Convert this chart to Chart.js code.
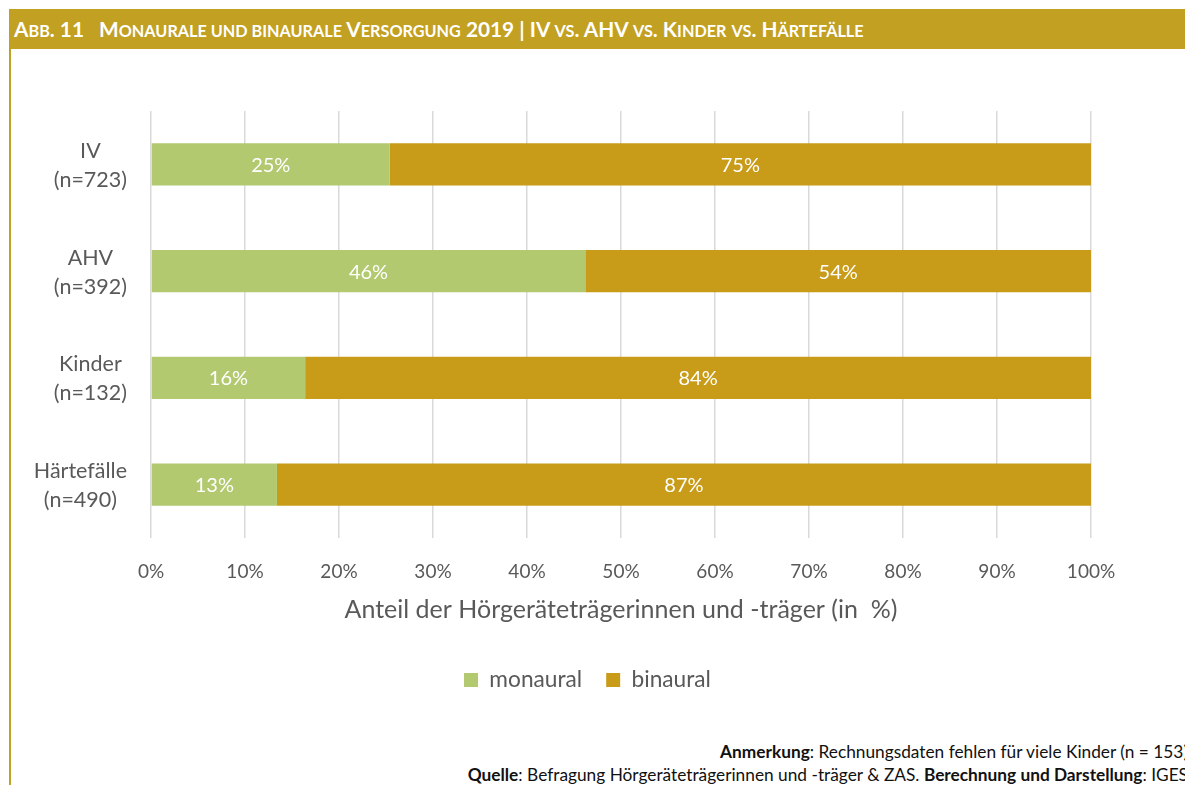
<!DOCTYPE html>
<html>
<head>
<meta charset="utf-8">
<script src="https://cdn.jsdelivr.net/npm/chart.js@4/dist/chart.umd.min.js"></script>
<style>
  html, body { margin: 0; padding: 0; background: #ffffff; }
  body { width: 1185px; height: 785px; position: relative; overflow: hidden; }
  #header { position: absolute; left: 9px; top: 9px; width: 1176px; height: 40px; background: #C2A021; }
  #title { position: absolute; left: 5px; top: 0; line-height: 40px; color: #ffffff; font-family: Lato, "Open Sans", sans-serif; font-weight: bold; font-size: 20.8px; white-space: pre; }
  #title .s { font-size: 0.78em; text-transform: uppercase; }
  #leftline { position: absolute; left: 9px; top: 49px; width: 2px; height: 736px; background: #C2A021; }
  #wrap { position: absolute; left: 0; top: 0; width: 1185px; height: 720px; }
  .foot { position: absolute; right: -3px; font-family: Lato, "Open Sans", sans-serif; font-size: 17.3px; line-height: 20px; color: #111111; white-space: pre; }
</style>
</head>
<body>
<div id="header"><div id="title">A<span class="s">bb</span>. 11   M<span class="s">onaurale und binaurale</span> V<span class="s">ersorgung</span> 2019 | IV <span class="s">vs</span>. AHV <span class="s">vs</span>. K<span class="s">inder</span> <span class="s">vs</span>. H<span class="s">ärtefälle</span></div></div>
<div id="leftline"></div>
<div id="wrap"><canvas id="c"></canvas></div>
<div class="foot" style="top:742px;"><b>Anmerkung</b>: Rechnungsdaten fehlen für viele Kinder (n = 153)</div>
<div class="foot" style="top:765px;"><b>Quelle</b>: Befragung Hörgeräteträgerinnen und -träger &amp; ZAS. <b>Berechnung und Darstellung</b>: IGES</div>
<script>
const categories = [["IV", "(n=723)"], ["AHV", "(n=392)"], ["Kinder", "(n=132)"], ["Härtefälle", "(n=490)"]];
const monaural = [25.4, 46.2, 16.4, 13.4];
const binaural = [74.6, 53.8, 83.6, 86.6];
const seriesNames = ["monaural", "binaural"];
const xTicks = [0, 10, 20, 30, 40, 50, 60, 70, 80, 90, 100];
const axisTitle = "Anteil der Hörgeräteträgerinnen und -träger (in  %)";

const GREY = "#595959";
const FONT = "Lato, 'Open Sans', sans-serif";

const yLabelPlugin = {
  id: "yLabels",
  afterDraw(chart) {
    const ctx = chart.ctx;
    const ys = chart.scales.y;
    ctx.save();
    ctx.font = "21.5px " + FONT;
    ctx.fillStyle = GREY;
    ctx.textAlign = "center";
    ctx.textBaseline = "middle";
    const lh = 29;
    categories.forEach((lines, i) => {
      const y = ys.getPixelForTick(i);
      let w = 0;
      lines.forEach(l => { w = Math.max(w, ctx.measureText(l).width); });
      const cx = chart.chartArea.left - 24 - w / 2;
      lines.forEach((l, k) => {
        ctx.fillText(l, cx, y + 1 + (k - (lines.length - 1) / 2) * lh);
      });
    });
    ctx.restore();
  }
};

const valueLabelPlugin = {
  id: "valueLabels",
  afterDatasetsDraw(chart) {
    const ctx = chart.ctx;
    ctx.save();
    ctx.font = "20px " + FONT;
    ctx.fillStyle = "#ffffff";
    ctx.textAlign = "center";
    ctx.textBaseline = "middle";
    chart.data.datasets.forEach((ds, di) => {
      const meta = chart.getDatasetMeta(di);
      meta.data.forEach((el, i) => {
        const p = el.getProps(["x", "y", "base"], true);
        ctx.fillText(Math.round(ds.data[i]) + "%", (p.x + p.base) / 2, p.y + 1);
      });
    });
    ctx.restore();
  }
};

const legendShift = {
  id: "legendShift",
  afterLayout(chart) {
    if (chart.legend) { chart.legend.left += 42; chart.legend.right += 42; }
  }
};

new Chart(document.getElementById("c"), {
  type: "bar",
  data: {
    labels: categories,
    datasets: [
      { label: seriesNames[0], data: monaural, backgroundColor: "#B2C970", borderWidth: 0, categoryPercentage: 1, barPercentage: 0.394 },
      { label: seriesNames[1], data: binaural, backgroundColor: "#C89B19", borderWidth: 0, categoryPercentage: 1, barPercentage: 0.394 }
    ]
  },
  options: {
    indexAxis: "y",
    responsive: true,
    maintainAspectRatio: false,
    animation: false,
    layout: { padding: { top: 111, right: 94, bottom: 18.65, left: 0 } },
    scales: {
      x: {
        stacked: true,
        min: 0, max: 100,
        afterBuildTicks(scale) { scale.ticks = xTicks.map(v => ({ value: v })); },
        ticks: { callback: v => v + "%", color: GREY, font: { family: FONT, size: 19 }, padding: 22, maxRotation: 0 },
        grid: { color: "#D9D9D9", lineWidth: 1.5, drawTicks: false },
        border: { display: false },
        title: { display: true, text: axisTitle, color: GREY, font: { family: FONT, size: 25 }, padding: { top: 12.2, bottom: 19.65 } },
        afterFit(scale) { scale.height = 106.65; }
      },
      y: {
        stacked: true,
        ticks: { display: false },
        grid: { display: false, drawTicks: false },
        border: { display: false },
        afterFit(scale) { scale.width = 151; }
      }
    },
    plugins: {
      legend: {
        position: "bottom",
        labels: { color: GREY, font: { family: FONT, size: 22.7 }, boxWidth: 14, boxHeight: 14, padding: 24 }
      },
      tooltip: { enabled: false }
    }
  },
  plugins: [yLabelPlugin, valueLabelPlugin, legendShift]
});
</script>
</body>
</html>
